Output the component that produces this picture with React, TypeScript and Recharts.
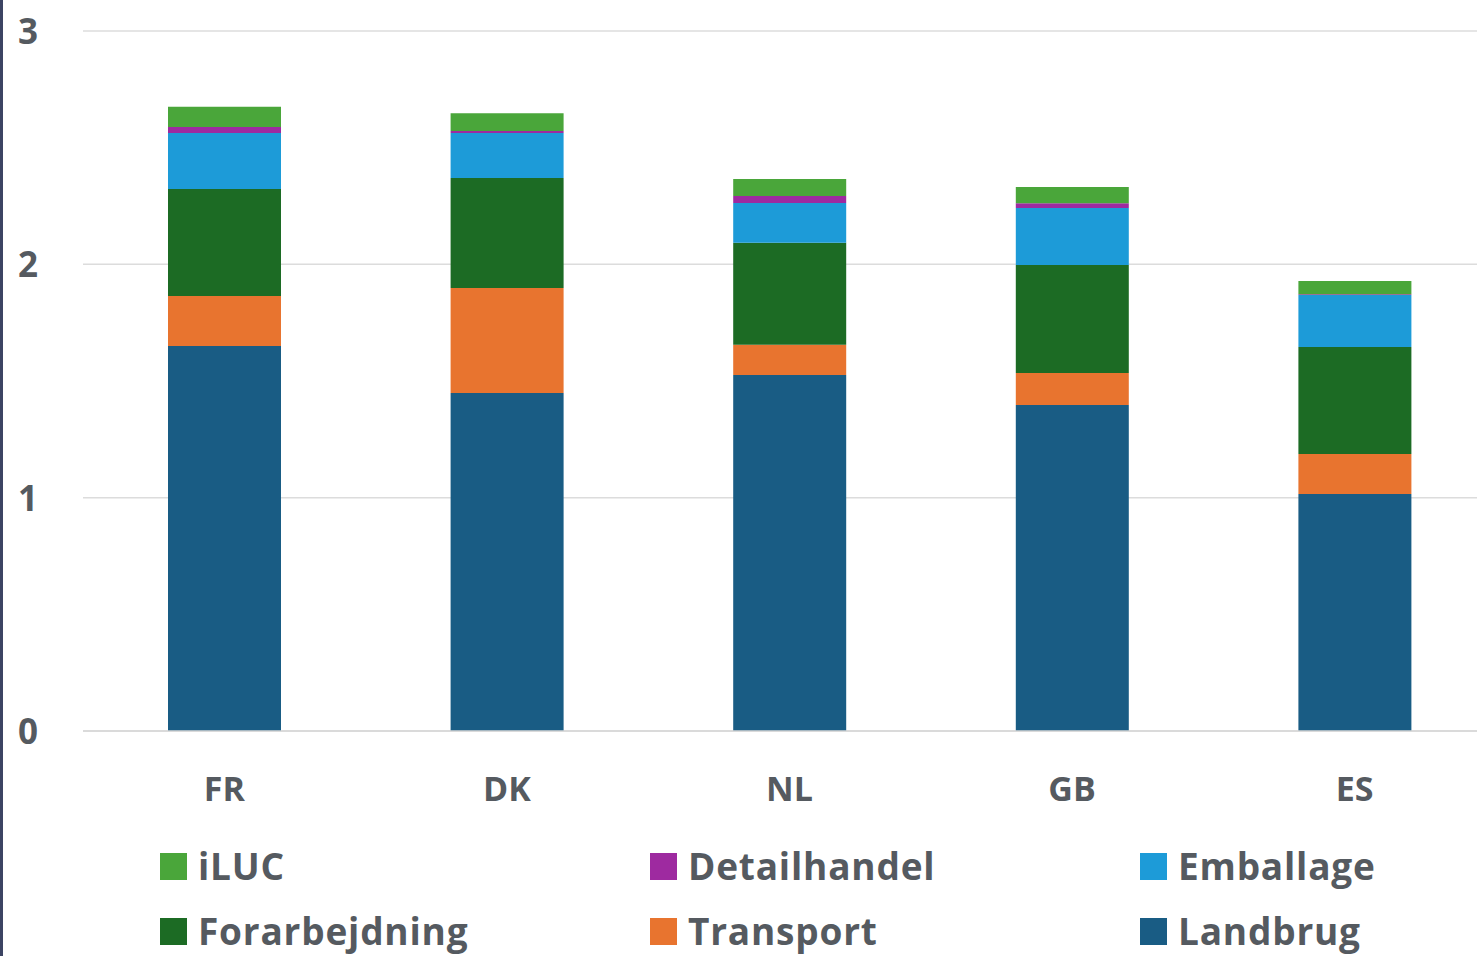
import { BarChart, Bar, XAxis, YAxis, CartesianGrid, Legend } from "recharts";

const countries = ["FR", "DK", "NL", "GB", "ES"];
const landbrug = [1.65, 1.449, 1.526, 1.397, 1.016];
const transport = [0.214, 0.45, 0.129, 0.137, 0.171];
const forarbejdning = [0.459, 0.471, 0.437, 0.463, 0.459];
const emballage = [0.24, 0.193, 0.171, 0.244, 0.223];
const detailhandel = [0.026, 0.008, 0.03, 0.021, 0.003];
const iluc = [0.086, 0.077, 0.073, 0.069, 0.057];
const yTicks = [0, 1, 2, 3];

// stacking order, bottom to top
const series = [
  { key: "landbrug", name: "Landbrug", color: "#195c84", values: landbrug },
  { key: "transport", name: "Transport", color: "#e8742f", values: transport },
  { key: "forarbejdning", name: "Forarbejdning", color: "#1c6b24", values: forarbejdning },
  { key: "emballage", name: "Emballage", color: "#1d9bd8", values: emballage },
  { key: "detailhandel", name: "Detailhandel", color: "#9e2aa0", values: detailhandel },
  { key: "iluc", name: "iLUC", color: "#4aa63a", values: iluc },
];

// legend reads row by row, three columns
const legendOrder = ["iluc", "detailhandel", "emballage", "forarbejdning", "transport", "landbrug"];

const data = countries.map((c, i) => {
  const row: Record<string, string | number> = { country: c };
  series.forEach((s) => {
    row[s.key] = s.values[i];
  });
  return row;
});

const FONT = "'Open Sans', Roboto, sans-serif";
const TEXT = "#555a60";

function YTick({ y, payload }: any) {
  return (
    <text x={28} y={y} dy={13} textAnchor="middle" fontSize={35} fontWeight={700} fill={TEXT} fontFamily={FONT}>
      {payload.value}
    </text>
  );
}

function XTick({ x, y, payload }: any) {
  return (
    <text x={x} y={y} dy={62} textAnchor="middle" fontSize={34} fontWeight={700} fill={TEXT} fontFamily={FONT}>
      {payload.value}
    </text>
  );
}

function LegendBox() {
  const cols = [160, 650, 1140];
  return (
    <div style={{ position: "relative", width: 1477, height: 120 }}>
      {legendOrder.map((k, i) => {
        const s = series.find((d) => d.key === k)!;
        const col = i % 3;
        const row = Math.floor(i / 3);
        return (
          <div
            key={k}
            style={{
              position: "absolute",
              left: cols[col],
              top: row * 65,
              display: "flex",
              alignItems: "center",
              fontFamily: FONT,
              fontWeight: 700,
              fontSize: 37,
              letterSpacing: 0.8,
              color: TEXT,
              lineHeight: "40px",
              whiteSpace: "nowrap",
            }}
          >
            <span style={{ width: 27, height: 27, background: s.color, marginRight: 11, display: "inline-block" }} />
            {s.name}
          </div>
        );
      })}
    </div>
  );
}

export default function App() {
  return (
    <div
      style={{
        position: "fixed",
        left: 0,
        top: 0,
        width: 1477,
        height: 956,
        overflow: "hidden",
        background: "#ffffff",
      }}
    >
      <div style={{ position: "absolute", left: 0, top: 0, width: 3, height: 956, background: "#3c4463" }} />
      <BarChart
        width={1496}
        height={956}
        data={data}
        margin={{ top: 31, right: 0, left: 0, bottom: 0 }}
      >
        <CartesianGrid horizontal vertical={false} stroke="#dcdcdc" strokeWidth={1.5} />
        <XAxis
          dataKey="country"
          axisLine={{ stroke: "#d6d6d6", strokeWidth: 1.5 }}
          tickLine={false}
          tick={<XTick />}
          height={105}
        />
        <YAxis
          domain={[0, 3]}
          ticks={yTicks}
          width={83}
          axisLine={false}
          tickLine={false}
          tick={<YTick />}
          allowDataOverflow
        />
        <Legend
          verticalAlign="bottom"
          content={() => <LegendBox />}
          wrapperStyle={{ position: "absolute", left: 0, top: 846, width: 1477 }}
        />
        {series.map((s) => (
          <Bar
            key={s.key}
            dataKey={s.key}
            name={s.name}
            stackId="a"
            fill={s.color}
            barSize={113}
            isAnimationActive={false}
          />
        ))}
      </BarChart>
    </div>
  );
}
